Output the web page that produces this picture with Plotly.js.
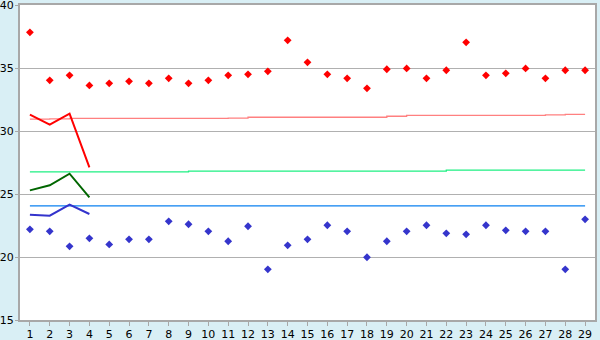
<!DOCTYPE html>
<html>
<head>
<meta charset="utf-8">
<script src="https://cdn.plot.ly/plotly-3.0.1.min.js"></script>
<style>
html,body{margin:0;padding:0;background:#D9EFF5;}
#chart{width:600px;height:340px;}
</style>
</head>
<body>
<div id="chart"></div>
<script>
var categories = [1,2,3,4,5,6,7,8,9,10,11,12,13,14,15,16,17,18,19,20,21,22,23,24,25,26,27,28,29];
var upperPoints = [37.83,34.02,34.42,33.62,33.78,33.94,33.78,34.18,33.78,34.02,34.42,34.5,34.74,37.2,35.45,34.5,34.18,33.39,34.9,34.97,34.18,34.82,37.04,34.42,34.58,34.97,34.18,34.82,34.82];
var lowerPoints = [22.2,22.04,20.85,21.48,21.0,21.4,21.4,22.83,22.6,22.04,21.25,22.44,19.02,20.93,21.4,22.52,22.04,19.98,21.25,22.04,22.52,21.88,21.8,22.52,22.12,22.04,22.04,19.02,22.99];
var shortCats = [1,2,3,4];
var redLine = [31.3,30.5,31.37,27.12];
var greenLine = [25.29,25.69,26.61,24.74];
var blueLine = [23.36,23.28,24.15,23.41];
var lightRed = [30.95,30.97,31.0,31.0,31.0,31.0,31.0,31.0,31.0,31.0,31.02,31.09,31.09,31.09,31.09,31.09,31.09,31.09,31.17,31.24,31.24,31.24,31.24,31.24,31.24,31.24,31.28,31.32,31.32];
var lightGreen = [26.75,26.75,26.75,26.75,26.75,26.75,26.75,26.75,26.82,26.82,26.82,26.82,26.82,26.82,26.82,26.82,26.82,26.82,26.82,26.82,26.82,26.89,26.89,26.89,26.89,26.89,26.89,26.89,26.89];
var lightBlue = [24.05,24.05,24.05,24.05,24.05,24.05,24.05,24.05,24.05,24.05,24.05,24.05,24.05,24.05,24.05,24.05,24.05,24.05,24.05,24.05,24.05,24.05,24.05,24.05,24.05,24.05,24.05,24.05,24.05];
var yTicks = [15,20,25,30,35,40];

var traces = [
  {x:categories, y:lightRed, mode:'lines', line:{color:'#FF8080', width:1.3, shape:'hv'}, hoverinfo:'none'},
  {x:categories, y:lightGreen, mode:'lines', line:{color:'#1EF082', width:1.3, shape:'hv'}, hoverinfo:'none'},
  {x:categories, y:lightBlue, mode:'lines', line:{color:'#0A80F0', width:1.3}, hoverinfo:'none'},
  {x:shortCats, y:redLine, mode:'lines', line:{color:'#FF0000', width:2}, hoverinfo:'none'},
  {x:shortCats, y:greenLine, mode:'lines', line:{color:'#006600', width:2}, hoverinfo:'none'},
  {x:shortCats, y:blueLine, mode:'lines', line:{color:'#3333CC', width:2}, hoverinfo:'none'},
  {x:categories, y:upperPoints, mode:'markers', marker:{symbol:'diamond', size:6, color:'#FF0000'}, hoverinfo:'none'},
  {x:categories, y:lowerPoints, mode:'markers', marker:{symbol:'diamond', size:6, color:'#3535CC'}, hoverinfo:'none'}
];

var layout = {
  width:600, height:340,
  paper_bgcolor:'#D9EFF5', plot_bgcolor:'#FFFFFF',
  margin:{l:20, r:5, t:5, b:20, pad:0},
  showlegend:false,
  font:{family:'DejaVu Sans, sans-serif', size:11, color:'#000000'},
  xaxis:{
    range:[0.5,29.5], tickmode:'array', tickvals:categories, ticktext:categories.map(String),
    ticks:'outside', ticklen:4, tickcolor:'#A8A8A8', showgrid:false, zeroline:false,
    showline:true, linecolor:'#A8A8A8', linewidth:2, mirror:true, fixedrange:true,
    tickfont:{size:11}, ticklabelstandoff:-1, ticklabeloverflow:'allow'
  },
  yaxis:{
    range:[15,40], tickmode:'array', tickvals:yTicks, ticktext:yTicks.map(String),
    ticks:'outside', ticklen:3, tickcolor:'#A8A8A8', showgrid:true, gridcolor:'#B0B0B0', gridwidth:1,
    zeroline:false, showline:true, linecolor:'#A8A8A8', linewidth:2, mirror:true, fixedrange:true,
    tickfont:{size:11}, ticklabelstandoff:-1, ticklabeloverflow:'allow'
  }
};

Plotly.newPlot('chart', traces, layout, {staticPlot:true, displayModeBar:false});
</script>
</body>
</html>
